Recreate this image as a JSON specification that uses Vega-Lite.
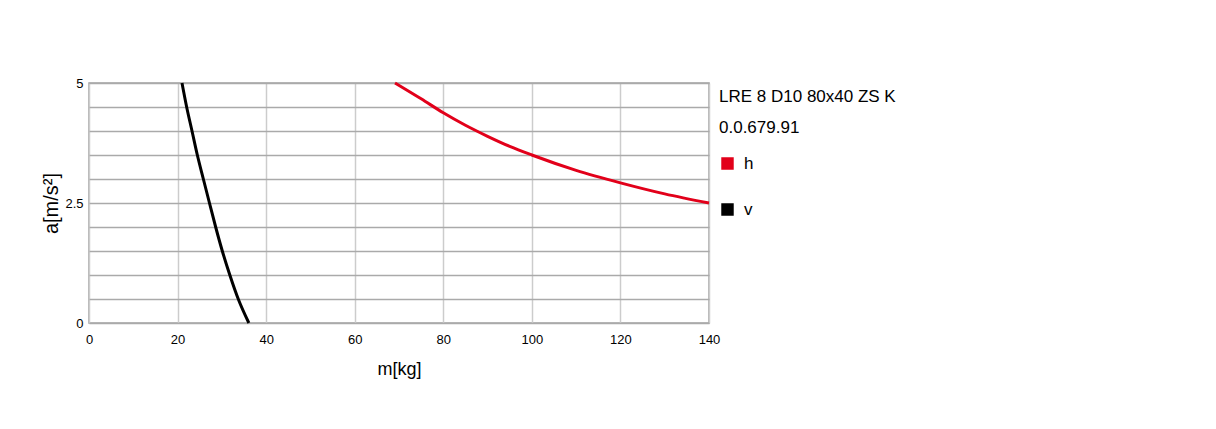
{
  "$schema": "https://vega.github.io/schema/vega-lite/v6.json",
  "autosize": "none",
  "width": 620,
  "height": 240,
  "padding": {"left": 89, "top": 83, "right": 507, "bottom": 106},
  "background": "white",
  "config": {
    "font": "Liberation Sans, sans-serif",
    "view": {"stroke": "#a0a0a0", "strokeWidth": 1.5}
  },
  "data": {
    "values": [
      {"m": 21.0, "a": 5.0, "s": "v"},
      {"m": 22.05, "a": 4.5, "s": "v"},
      {"m": 23.26, "a": 4.0, "s": "v"},
      {"m": 24.46, "a": 3.5, "s": "v"},
      {"m": 25.82, "a": 3.0, "s": "v"},
      {"m": 27.2, "a": 2.5, "s": "v"},
      {"m": 28.6, "a": 2.0, "s": "v"},
      {"m": 30.1, "a": 1.5, "s": "v"},
      {"m": 31.8, "a": 1.0, "s": "v"},
      {"m": 33.7, "a": 0.5, "s": "v"},
      {"m": 36.1, "a": 0.0, "s": "v"},
      {"m": 69.1, "a": 5.0, "s": "h"},
      {"m": 75, "a": 4.67, "s": "h"},
      {"m": 80, "a": 4.38, "s": "h"},
      {"m": 85, "a": 4.12, "s": "h"},
      {"m": 90, "a": 3.89, "s": "h"},
      {"m": 95, "a": 3.68, "s": "h"},
      {"m": 100, "a": 3.5, "s": "h"},
      {"m": 110, "a": 3.18, "s": "h"},
      {"m": 120, "a": 2.92, "s": "h"},
      {"m": 130, "a": 2.69, "s": "h"},
      {"m": 140, "a": 2.5, "s": "h"}
    ]
  },
  "mark": {"type": "line", "strokeWidth": 3, "interpolate": "monotone"},
  "encoding": {
    "x": {
      "field": "m", "type": "quantitative",
      "scale": {"domain": [0, 140], "nice": false},
      "axis": {
        "title": "m[kg]", "values": [0, 20, 40, 60, 80, 100, 120, 140],
        "domain": false, "ticks": false, "labelPadding": 10, "labelFlush": false,
        "labelFontSize": 13, "labelColor": "#000",
        "titleFontSize": 18, "titleFontWeight": "normal", "titleColor": "#000", "titlePadding": 14,
        "gridColor": "#cccccc", "gridWidth": 1.5, "gridOpacity": 1
      }
    },
    "y": {
      "field": "a", "type": "quantitative",
      "scale": {"domain": [0, 5], "nice": false},
      "axis": {
        "title": "a[m/s²]", "values": [0, 0.5, 1, 1.5, 2, 2.5, 3, 3.5, 4, 4.5, 5],
        "format": "~g",
        "labelExpr": "datum.value % 2.5 == 0 ? datum.label : ''",
        "domain": false, "ticks": false, "labelPadding": 6,
        "labelFontSize": 13, "labelColor": "#000",
        "titleFontSize": 20, "titleFontWeight": "normal", "titleColor": "#000", "titlePadding": 3,
        "gridColor": "#aaaaaa", "gridWidth": 1.5, "gridOpacity": 1
      }
    },
    "color": {
      "field": "s", "type": "nominal",
      "scale": {"domain": ["h", "v"], "range": ["#e2001a", "#000000"]},
      "legend": {
        "orient": "none", "legendX": 630, "legendY": 6,
        "title": ["LRE 8 D10 80x40 ZS K", "0.0.679.91"],
        "titleFontSize": 17, "titleFontWeight": "normal", "titleColor": "#000",
        "titleLineHeight": 31, "titlePadding": 18, "titleLimit": 400,
        "symbolType": "square", "symbolSize": 120,
        "labelFontSize": 17, "labelColor": "#000", "labelOffset": 8,
        "rowPadding": 28, "padding": 0,
        "encode": {
          "symbols": {"update": {"fill": {"scale": "color", "field": "value"}, "stroke": {"value": "transparent"}, "opacity": {"value": 1}}}
        }
      }
    }
  }
}
